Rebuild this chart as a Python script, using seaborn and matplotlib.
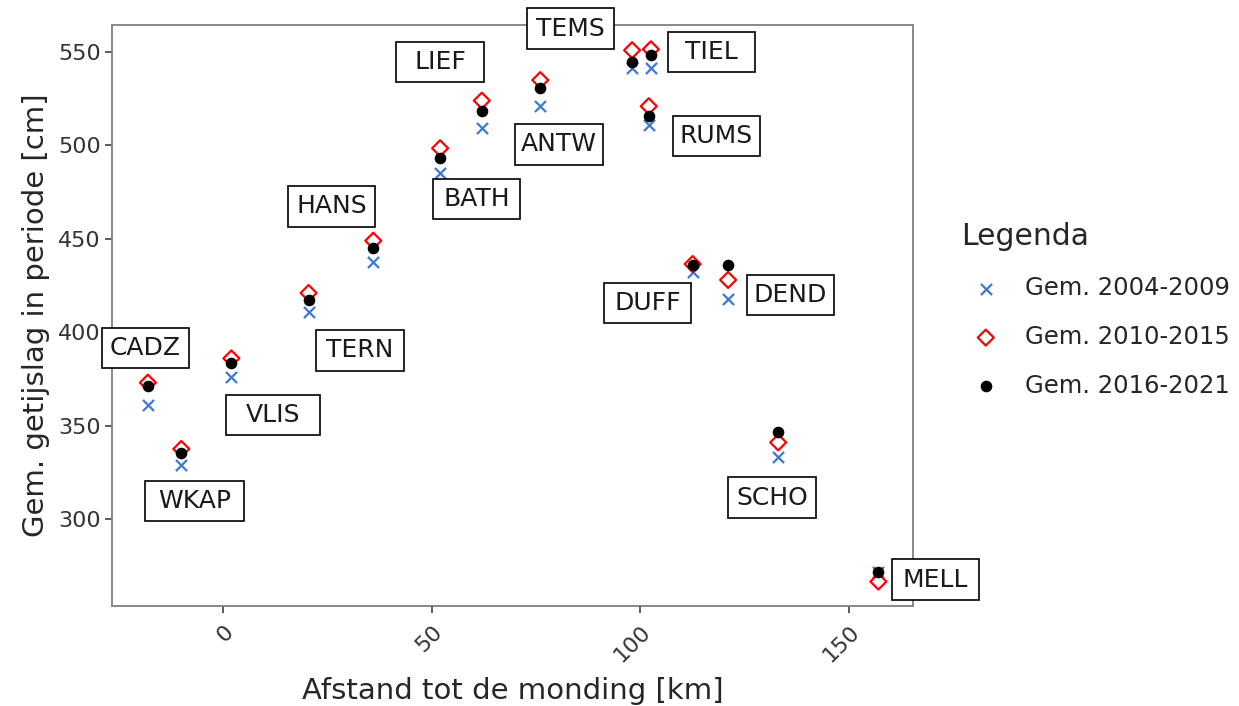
import numpy as np
import pandas as pd
import seaborn as sns
import matplotlib
matplotlib.use("Agg")
import matplotlib.pyplot as plt
from matplotlib.path import Path

# stations along the estuary, distance to the mouth [km]
stations = ["CADZ", "WKAP", "VLIS", "TERN", "HANS", "BATH", "LIEF", "ANTW",
            "TEMS", "TIEL", "RUMS", "DUFF", "DEND", "SCHO", "MELL"]
afstand = [-18, -10, 2, 20.5, 36, 52, 62, 76, 98, 102.5, 102, 112.5, 121, 133, 157]

# mean tidal range per period [cm]
gem_2004_2009 = [361, 329, 376, 411, 437.5, 485.5, 509.5, 521, 541.5, 541.5, 511, 432, 418, 333, 271.5]
gem_2010_2015 = [373, 337.5, 386, 421, 449, 498.5, 524, 535, 551, 551.5, 521, 436.5, 428, 341, 266.5]
gem_2016_2021 = [371, 335.5, 383.5, 417, 445, 493.5, 518.5, 530.5, 544.5, 548.5, 516, 436, 436, 346.5, 271.5]

periodes = ["Gem. 2004-2009", "Gem. 2010-2015", "Gem. 2016-2021"]

# label box centres (repelled positions)
lab_x = [-18.6, -6.8, 11.9, 32.8, 26, 60.7, 52, 80.5, 83.3, 117, 118.2, 101.7, 135.9, 131.5, 170.7]
lab_y = [391.5, 309.6, 355.7, 390.3, 467.4, 471.4, 544.6, 500.6, 562.6, 550, 505, 415.6, 419.9, 311.4, 267.5]

df = pd.DataFrame({"station": stations, "afstand": afstand,
                   periodes[0]: gem_2004_2009,
                   periodes[1]: gem_2010_2015,
                   periodes[2]: gem_2016_2021})

sns.set_style("white", {"axes.edgecolor": "#808080"})
plt.rcParams["font.family"] = ["DejaVu Sans"]

fig = plt.figure(figsize=(12.39, 7.06), dpi=100)
ax = fig.add_axes([0.0904, 0.1416, 0.6465, 0.823])

sns.scatterplot(data=df, x="afstand", y=periodes[0], marker="x", s=64,
                color="#3b78d8", linewidth=1.6, label=periodes[0], ax=ax, zorder=3)
sns.scatterplot(data=df, x="afstand", y=periodes[1], marker="D", s=66,
                color="red", linewidth=1.6, label=periodes[1], ax=ax, zorder=4)
ax.collections[-1].set_facecolor("none")
ax.collections[-1].set_edgecolor("red")
sns.scatterplot(data=df, x="afstand", y=periodes[2], marker="o", s=70,
                color="black", linewidth=0, label=periodes[2], ax=ax, zorder=5)

LABEL_FS = 18
box_w = {"WKAP": 71.3, "VLIS": 67.7}


def make_box(w_pt, h_pt=29.2):
    def box(x0, y0, width, height, mutation_size):
        k = mutation_size / LABEL_FS
        cx, cy = x0 + width / 2, y0 + height / 2
        hw, hh = w_pt * k / 2, h_pt * k / 2
        return Path([(cx - hw, cy - hh), (cx + hw, cy - hh), (cx + hw, cy + hh),
                     (cx - hw, cy + hh), (cx - hw, cy - hh)], closed=True)
    return box


for st, lx, ly in zip(stations, lab_x, lab_y):
    ax.text(lx, ly, st, ha="center", va="center", fontsize=LABEL_FS, color="#1a1a1a",
            clip_on=False, zorder=6,
            bbox=dict(boxstyle=make_box(box_w.get(st, 63.0)), fc="white", ec="black", lw=1.2))

ax.set_xlim(-26.6, 165.3)
ax.set_ylim(253.4, 564.5)
ax.set_xticks([0, 50, 100, 150])
ax.set_yticks([300, 350, 400, 450, 500, 550])
ax.tick_params(axis="both", which="both", bottom=True, left=True, length=5, width=1.3,
               color="#4d4d4d", labelsize=16, labelcolor="#333333", pad=3)
ax.tick_params(axis="x", pad=6)
plt.setp(ax.get_xticklabels(), rotation=45, ha="right", va="top", rotation_mode="anchor")
for sp in ax.spines.values():
    sp.set_linewidth(1.3)

ax.set_xlabel("Afstand tot de monding [km]", fontsize=21, labelpad=8)
ax.set_ylabel("Gem. getijslag in periode [cm]", fontsize=21, labelpad=6)

leg = ax.legend(title="Legenda", loc="upper left", bbox_to_anchor=(0.776, 0.685),
                bbox_transform=fig.transFigure, frameon=False, fontsize=17.5,
                title_fontsize=21.5, handlelength=2.0, handletextpad=0.63,
                labelspacing=1.02, borderpad=0, borderaxespad=0)
leg._legend_box.align = "left"

fig.savefig("out.png", dpi=100)
